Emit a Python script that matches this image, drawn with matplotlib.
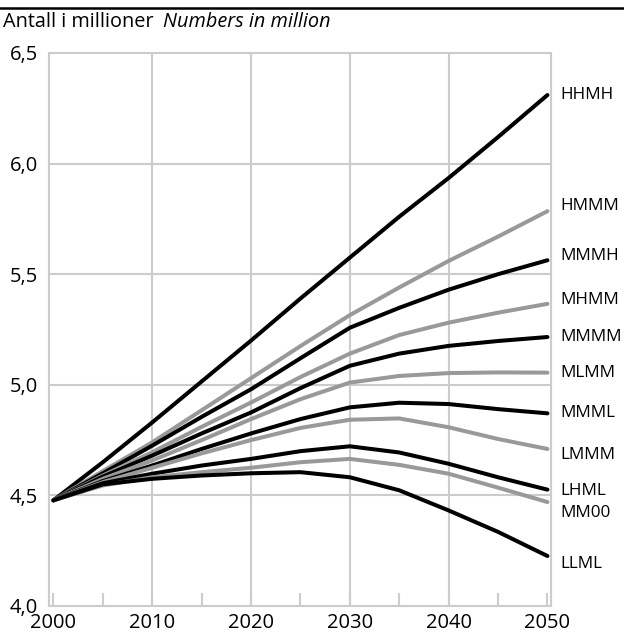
import numpy as np
import matplotlib
matplotlib.use("Agg")
import matplotlib.pyplot as plt

plt.rcParams['font.family'] = ['Open Sans', 'DejaVu Sans']

# population projections, million
years = [2000, 2005, 2010, 2015, 2020, 2025, 2030, 2035, 2040, 2045, 2050]

hhmh = [4.478, 4.65, 4.83, 5.015, 5.20, 5.39, 5.575, 5.76, 5.935, 6.12, 6.31]
hmmm = [4.478, 4.61, 4.74, 4.885, 5.03, 5.175, 5.315, 5.44, 5.56, 5.67, 5.785]
mmmh = [4.478, 4.60, 4.725, 4.855, 4.98, 5.12, 5.258, 5.348, 5.43, 5.50, 5.563]
mhmm = [4.478, 4.59, 4.695, 4.81, 4.92, 5.035, 5.141, 5.225, 5.281, 5.326, 5.366]
mmmm = [4.478, 4.585, 4.68, 4.78, 4.875, 4.985, 5.086, 5.141, 5.176, 5.198, 5.216]
mlmm = [4.478, 4.575, 4.658, 4.75, 4.845, 4.935, 5.01, 5.04, 5.053, 5.056, 5.055]
mmml = [4.478, 4.565, 4.635, 4.71, 4.78, 4.845, 4.898, 4.919, 4.913, 4.89, 4.871]
lmmm = [4.478, 4.56, 4.625, 4.69, 4.75, 4.805, 4.842, 4.848, 4.808, 4.755, 4.71]
lhml = [4.478, 4.555, 4.598, 4.635, 4.665, 4.70, 4.722, 4.694, 4.643, 4.582, 4.526]
mm00 = [4.478, 4.545, 4.582, 4.605, 4.625, 4.65, 4.665, 4.638, 4.598, 4.535, 4.47]
llml = [4.478, 4.55, 4.575, 4.59, 4.60, 4.605, 4.582, 4.523, 4.432, 4.335, 4.226]

names = ['HHMH', 'HMMM', 'MMMH', 'MHMM', 'MMMM', 'MLMM',
         'MMML', 'LMMM', 'LHML', 'MM00', 'LLML']
series = [hhmh, hmmm, mmmh, mhmm, mmmm, mlmm, mmml, lmmm, lhml, mm00, llml]
shades = ['black', 'gray', 'black', 'gray', 'black', 'gray',
          'black', 'gray', 'black', 'gray', 'black']

y_ticks = [4.0, 4.5, 5.0, 5.5, 6.0, 6.5]
y_ticklabels = ['4,0', '4,5', '5,0', '5,5', '6,0', '6,5']
x_labels = [2000, 2010, 2020, 2030, 2040, 2050]

colors = {'black': '#000000', 'gray': '#999999'}
grid_c = '#cccccc'

fig = plt.figure(figsize=(6.24, 6.37), dpi=100)
ax = fig.add_axes([49/624, 1 - 606/637, 502/624, 553/637])

# grid lines drawn by hand (none at 2000 / 2050, those are the frame)
for x in [2010, 2020, 2030, 2040]:
    ax.axvline(x, color=grid_c, lw=1.5, zorder=0)
for y in [4.5, 5.0, 5.5, 6.0]:
    ax.axhline(y, color=grid_c, lw=1.5, zorder=0)

# label nudges in points (some labels are moved off the line end)
nudge = {'HMMM': 4, 'MMMH': 3, 'MHMM': 3, 'LMMM': -4, 'LHML': -1,
         'MM00': -8, 'LLML': -6}

for name, vals, shade in zip(names, series, shades):
    ax.plot(years, vals, color=colors[shade], lw=2.9,
            solid_capstyle='round', solid_joinstyle='round')
    ax.annotate(name, xy=(years[-1], vals[-1]),
                xytext=(9.4, nudge.get(name, 0)), textcoords='offset points',
                va='center', ha='left', fontsize=12.3, annotation_clip=False)

ax.set_xlim(1999.55, 2050.36)
ax.set_ylim(4.0, 6.5)

for s in ax.spines.values():
    s.set_color(grid_c)
    s.set_linewidth(1.5)

ax.set_xticks(np.arange(2000, 2051, 5))
ax.set_xticklabels([str(y) if y in x_labels else '' for y in range(2000, 2051, 5)])
ax.tick_params(axis='x', direction='in', length=9.4, width=1.5, color=grid_c,
               labelsize=14.5, pad=5)
ax.set_yticks(y_ticks)
ax.set_yticklabels(y_ticklabels)
ax.tick_params(axis='y', length=0, labelsize=14.5, pad=8)

# rule at the top and the heading
fig.add_artist(plt.Line2D([0, 1], [1 - 8/637, 1 - 8/637], color='black', lw=1.8))
fig.text(3/624, 1 - 22/637, 'Antall i millioner', fontsize=14.3, va='center')
fig.text(163/624, 1 - 22/637, 'Numbers in million', fontsize=14.3,
         va='center', style='italic')

fig.savefig('out.png', dpi=100)
